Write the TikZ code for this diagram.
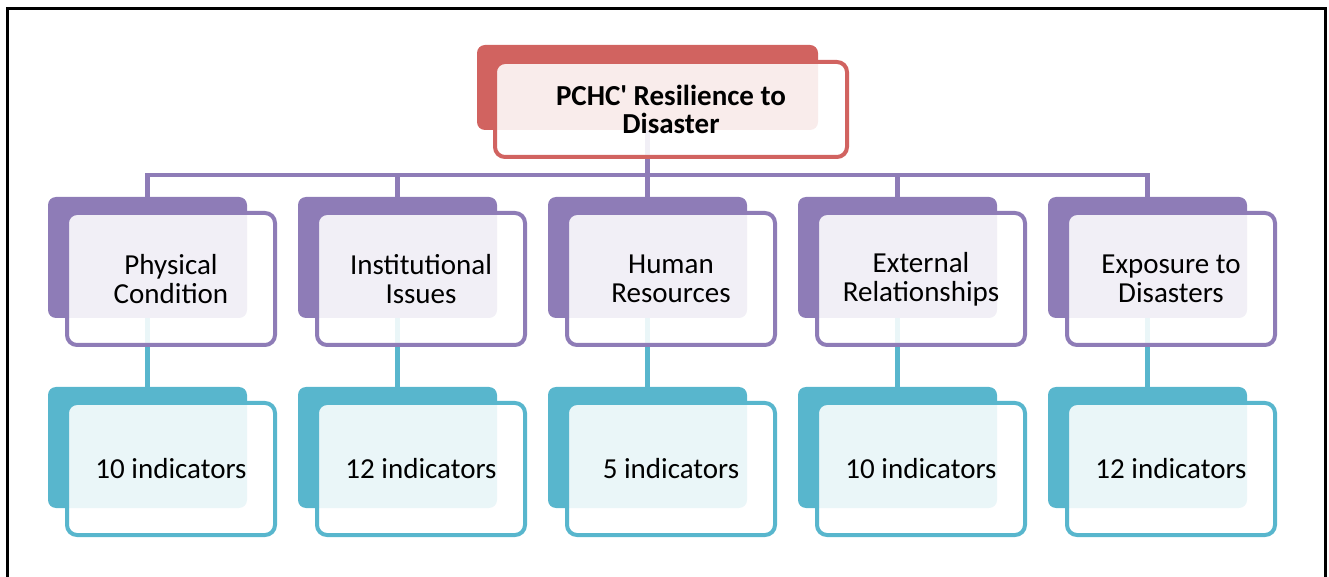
\documentclass[tikz,border=0pt]{standalone}
\usepackage{fontspec}
\setmainfont{Carlito}
\definecolor{redbox}{RGB}{209,99,96}
\definecolor{purplebox}{RGB}{142,124,183}
\definecolor{tealbox}{RGB}{88,182,205}
\tikzset{
	backbox/.style={rectangle, rounded corners=4pt, draw=none, inner sep=0pt,
		minimum width=99.5pt, minimum height=60.5pt},
	frontbox/.style={rectangle, rounded corners=5pt, line width=2pt, inner sep=0pt,
		fill=white, fill opacity=0.88, text opacity=1, align=center,
		minimum width=104pt, minimum height=66pt,
		font=\fontsize{14.5}{14.5}\selectfont},
	link/.style={line width=2.4pt},
}
\begin{document}
\begin{tikzpicture}[x=0.5pt, y=-0.5pt]
		%frame
		\useasboundingbox (0,0) rectangle (1329,577);
		\draw[line width=1.5pt] (7,577) -- (7,9) -- (1325,9) -- (1325,577);
		
		%back layers
		\node[backbox, fill=redbox, minimum width=170.5pt, minimum height=42.5pt] (top-b) at (647.5,87.5) {};
		\foreach \n/\x in {phys/147.5, inst/397.5, hum/647.5, ext/897.5, expo/1147.5}{
			\node[backbox, fill=purplebox] (\n-b) at (\x,257.5) {};
			\node[backbox, fill=tealbox] (\n-cb) at (\x,447.5) {};
		}
		
		%connectors
		\coordinate (bus) at (647.5,175);
		\draw[link, purplebox] (top-b.south) -- (bus);
		\foreach \n in {phys, inst, hum, ext, expo}{
			\draw[link, purplebox] (bus) -| (\n-b.north);
			\draw[link, tealbox] (\n-b.south) -- (\n-cb.north);
		}
		
		%front layers
		\node[frontbox, draw=redbox, minimum width=176pt, minimum height=47.5pt, font=\fontsize{14.5}{13.8}\selectfont\bfseries] (top-f) at ([shift={(23.5,22)}]top-b) {PCHC\textquotesingle\ Resilience to\\Disaster};
		\foreach \n/\txt/\num in {phys/{Physical\\Condition}/10, inst/{Institutional\\Issues}/12, hum/{Human\\Resources}/5, ext/{External\\Relationships}/10, expo/{Exposure to\\Disasters}/12}{
			\node[frontbox, draw=purplebox] (\n-f) at ([shift={(23.5,21.5)}]\n-b) {\txt};
			\node[frontbox, draw=tealbox] (\n-cf) at ([shift={(23.5,21.5)}]\n-cb) {\num\ indicators};
		}
		\end{tikzpicture}
\end{document}
